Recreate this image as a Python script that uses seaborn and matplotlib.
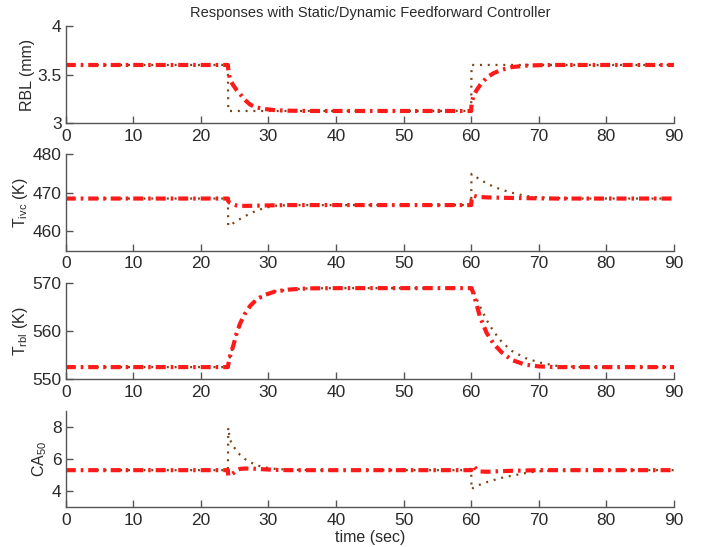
import matplotlib
matplotlib.use("Agg")
import matplotlib.pyplot as plt
import seaborn as sns
import pandas as pd

# Simulation time stamps (sec)
time = [0, 24.0, 24.05, 24.3, 24.8, 25.3, 25.8, 26.5, 27.3, 28.3, 29.5, 31, 33, 36, 40, 50,
        60.0, 60.05, 60.3, 60.8, 61.3, 62.3, 63.3, 64.5, 66, 68, 70, 72.5, 76, 80, 90]

# Residual burned gas layer thickness (mm)
rbl_static = [3.6, 3.6, 3.125, 3.125, 3.125, 3.125, 3.125, 3.125, 3.125, 3.125, 3.125, 3.125,
              3.125, 3.125, 3.125, 3.125, 3.125, 3.6, 3.6, 3.6, 3.6, 3.6, 3.6, 3.6, 3.6, 3.6,
              3.6, 3.6, 3.6, 3.6, 3.6]
rbl_dynamic = [3.6, 3.6, 3.56, 3.45, 3.39, 3.34, 3.30, 3.24, 3.19, 3.16, 3.145, 3.133, 3.128,
               3.125, 3.125, 3.125, 3.125, 3.20, 3.27, 3.34, 3.39, 3.47, 3.515, 3.55, 3.578,
               3.592, 3.598, 3.6, 3.6, 3.6, 3.6]

# Temperature at intake valve closing (K)
tivc_static = [468.5, 468.5, 461.4, 461.5, 462.1, 462.7, 463.2, 463.9, 464.6, 465.4, 466.1,
               466.6, 466.8, 466.8, 466.8, 466.8, 466.8, 474.9, 474.6, 474.0, 473.5, 472.4,
               471.6, 470.8, 470.0, 469.2, 468.8, 468.6, 468.5, 468.5, 468.5]
tivc_dynamic = [468.5, 468.5, 467.8, 467.4, 467.0, 466.7, 466.6, 466.6, 466.6, 466.65, 466.7,
                466.75, 466.8, 466.8, 466.8, 466.8, 466.8, 468.2, 469.3, 469.0, 468.9, 468.8,
                468.75, 468.7, 468.65, 468.6, 468.55, 468.5, 468.5, 468.5, 468.5]

# Residual burned gas layer temperature (K)
trbl_static = [552.5, 552.5, 553.0, 554.7, 557.0, 559.6, 561.6, 563.6, 565.3, 566.7, 567.6,
               568.3, 568.7, 568.95, 569.0, 569.0, 569.0, 569.0, 568.5, 566.8, 565.2, 562.3,
               560.0, 557.8, 555.9, 554.4, 553.5, 552.8, 552.5, 552.5, 552.5]
trbl_dynamic = [552.5, 552.5, 553.0, 554.7, 557.0, 559.6, 561.6, 563.6, 565.3, 566.7, 567.6,
                568.3, 568.7, 568.95, 569.0, 569.0, 569.0, 569.0, 568.0, 565.6, 563.0, 559.6,
                557.4, 555.6, 554.0, 553.0, 552.65, 552.5, 552.5, 552.5, 552.5]

# Combustion phasing CA50
ca50_static = [5.3, 5.3, 7.95, 7.2, 6.8, 6.5, 6.25, 6.0, 5.8, 5.6, 5.47, 5.38, 5.33, 5.3, 5.3,
               5.3, 5.3, 4.1, 4.2, 4.32, 4.4, 4.55, 4.68, 4.82, 4.95, 5.12, 5.23, 5.29, 5.3,
               5.3, 5.3]
ca50_dynamic = [5.3, 5.3, 4.95, 5.0, 5.12, 5.3, 5.38, 5.4, 5.4, 5.38, 5.35, 5.32, 5.3, 5.3, 5.3,
                5.3, 5.3, 5.45, 5.58, 5.35, 5.22, 5.2, 5.22, 5.24, 5.26, 5.28, 5.3, 5.3, 5.3,
                5.3, 5.3]

ylabels = ["RBL (mm)", r"T$_{\rm ivc}$ (K)", r"T$_{\rm rbl}$ (K)", r"CA$_{50}$"]
ylims = [(3, 4), (455, 480), (550, 570), (3, 9)]
yticks = [[3, 3.5, 4], [460, 470, 480], [550, 560, 570], [4, 6, 8]]
xticks = [0, 10, 20, 30, 40, 50, 60, 70, 80, 90]

sns.set_style("ticks")
plt.rcParams["font.family"] = ["Liberation Sans", "DejaVu Sans"]
plt.rcParams["mathtext.fontset"] = "custom"
plt.rcParams["mathtext.rm"] = "Liberation Sans"
plt.rcParams["mathtext.it"] = "Liberation Sans:italic"

axis_col = "#555555"
text_col = "#2a2a2a"
red = "#ff1a1a"
brown = "#7a4416"

df = pd.DataFrame({
    "time": time,
    "rbl_s": rbl_static, "rbl_d": rbl_dynamic,
    "tivc_s": tivc_static, "tivc_d": tivc_dynamic,
    "trbl_s": trbl_static, "trbl_d": trbl_dynamic,
    "ca50_s": ca50_static, "ca50_d": ca50_dynamic,
})
pairs = [("rbl_s", "rbl_d"), ("tivc_s", "tivc_d"), ("trbl_s", "trbl_d"), ("ca50_s", "ca50_d")]

fig = plt.figure(figsize=(7.02, 5.47), dpi=100)
left, width = 0.0936, 0.8664
boxes = [(0.775, 0.177), (0.542, 0.176), (0.307, 0.175), (0.073, 0.176)]

for i, ((bottom, height), (s_col, d_col)) in enumerate(zip(boxes, pairs)):
    ax = fig.add_axes([left, bottom, width, height])
    sns.lineplot(data=df, x="time", y=s_col, ax=ax, color=brown, lw=1.6,
                 linestyle=(0, (0.9, 2.6)), estimator=None, sort=False)
    sns.lineplot(data=df, x="time", y=d_col, ax=ax, color=red, lw=3.0,
                 linestyle=(0, (2.4, 1.2, 0.6, 1.2)), estimator=None, sort=False)
    ax.set_xlim(0, 90)
    ax.set_ylim(*ylims[i])
    ax.set_xticks(xticks)
    ax.set_yticks(yticks[i])
    ax.set_yticklabels([f"{v:g}" for v in yticks[i]])
    ax.set_ylabel(ylabels[i], fontsize=11.5, color=text_col, labelpad=2)
    ax.set_xlabel("")
    for side in ("top", "right"):
        ax.spines[side].set_visible(False)
    for side in ("left", "bottom"):
        ax.spines[side].set_color(axis_col)
        ax.spines[side].set_linewidth(1.0)
    ax.tick_params(direction="in", length=5, width=1.0, colors=axis_col,
                   labelcolor=text_col, labelsize=12.5)
    ax.tick_params(axis="x", pad=4)
    ax.tick_params(axis="y", pad=3)
    if i == 3:
        ax.set_xlabel("time (sec)", fontsize=11.5, color=text_col, labelpad=2)

fig.text(left + width / 2, 0.977, "Responses with Static/Dynamic Feedforward Controller",
         ha="center", va="center", fontsize=10.5, color=text_col)

fig.savefig("out.png", dpi=100)
